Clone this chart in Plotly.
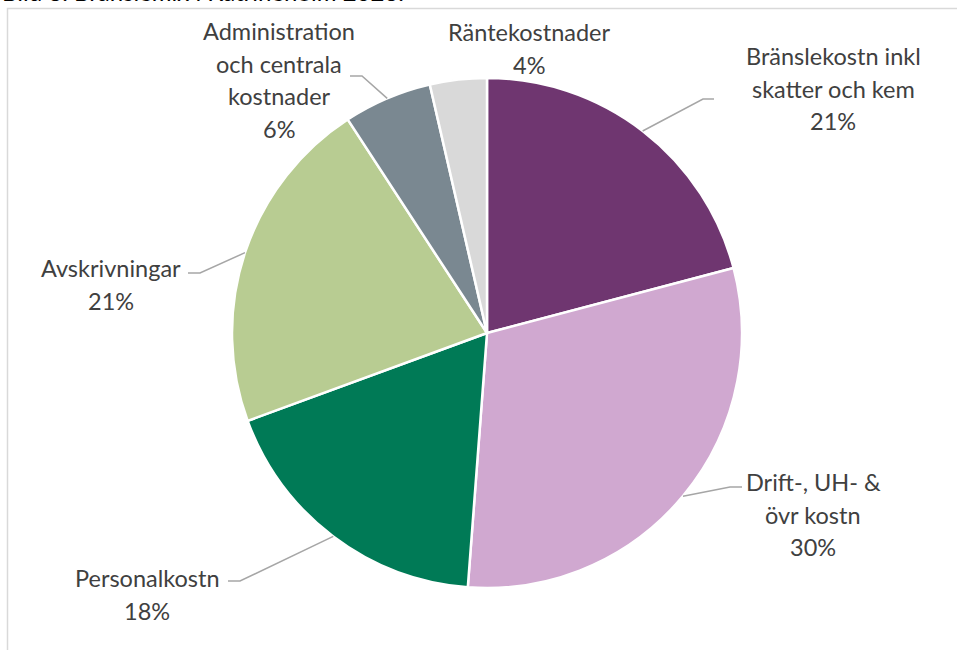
import math
import plotly.graph_objects as go

# ---- data ----
title_text = "Bild 8. Bränslemix i Katrineholm 2023."
categories = ["Bränslekostn inkl skatter och kem", "Drift-, UH- & övr kostn", "Personalkostn",
              "Avskrivningar", "Administration och centrala kostnader", "Räntekostnader"]
values = [20.9, 30.3, 18.2, 21.4, 5.6, 3.6]
label_lines = [
    ["Bränslekostn inkl", "skatter och kem"],
    ["Drift-, UH- &", "övr kostn"],
    ["Personalkostn"],
    ["Avskrivningar"],
    ["Administration", "och centrala", "kostnader"],
    ["Räntekostnader"],
]
colors = ["#6F3670", "#D0A8D0", "#007A56", "#B8CC92", "#7A8891", "#D9D9D9"]

W, H = 957, 650
CX, CY, R = 487, 333, 255

# label layout (pixels): text centre x, first line y, leader elbow, leader end
label_layout = [
    dict(x=833, y0=56, elbow=(703, 99), end=(714, 99)),
    dict(x=813, y0=482, elbow=(730, 487), end=(742, 487)),
    dict(x=147, y0=578, elbow=(240, 581), end=(228, 581)),
    dict(x=111, y0=268, elbow=(200, 273), end=(188, 273)),
    dict(x=279, y0=31, elbow=(362, 76), end=(350, 76)),
    dict(x=529, y0=32, elbow=None, end=None),
]
LINE_H = 32.5

def px(x):
    return x / W

def py(y):
    return 1 - y / H

fig = go.Figure(go.Pie(
    labels=categories, values=values, sort=False, direction="clockwise", rotation=0,
    marker=dict(colors=colors, line=dict(color="white", width=2.5)),
    textinfo="none", hoverinfo="label+percent", showlegend=False,
    domain=dict(x=[px(CX - R), px(CX + R)], y=[py(CY + R), py(CY - R)]),
))

annotations = []
shapes = []
total = sum(values)
cum = 0.0
font = dict(family="Lato, 'Open Sans', sans-serif", size=23.5, color="#404040")
for i, v in enumerate(values):
    mid = (cum + v / 2) / total * 2 * math.pi
    cum += v
    lay = label_layout[i]
    pct = f"{round(v / total * 100)}%"
    lines = label_lines[i] + [pct]
    for k, t in enumerate(lines):
        annotations.append(dict(x=px(lay["x"]), y=py(lay["y0"] + k * LINE_H), xref="paper", yref="paper",
                                text=t, showarrow=False, xanchor="center", yanchor="middle", font=font))
    if lay["elbow"]:
        sx = CX + R * math.sin(mid)
        sy = CY - R * math.cos(mid)
        ex, ey = lay["elbow"]
        tx, ty = lay["end"]
        path = f"M {px(sx)} {py(sy)} L {px(ex)} {py(ey)} L {px(tx)} {py(ty)}"
        shapes.append(dict(type="path", path=path, xref="paper", yref="paper",
                           line=dict(color="#A6A6A6", width=1.5)))

# partially visible caption above the chart frame (cut off by the page edge, as in the source)
annotations.append(dict(x=0, y=py(8), xref="paper", yref="paper", text=title_text, showarrow=False,
                        xanchor="left", yanchor="bottom",
                        font=dict(family="Lato, 'Open Sans', sans-serif", size=24, color="#000000")))

# chart frame (extends past right/bottom edge)
shapes.append(dict(type="rect", xref="paper", yref="paper", x0=px(7.5), x1=1.05, y0=-0.05, y1=py(8.5),
                   line=dict(color="#D9D9D9", width=1.5), fillcolor="rgba(0,0,0,0)", layer="below"))

fig.update_layout(
    width=W, height=H, margin=dict(l=0, r=0, t=0, b=0),
    paper_bgcolor="white", plot_bgcolor="white",
    annotations=annotations, shapes=shapes,
)
fig.write_html("out.html", config={"displayModeBar": False},
               post_script="document.body.style.margin='0';document.body.style.overflow='hidden';")
